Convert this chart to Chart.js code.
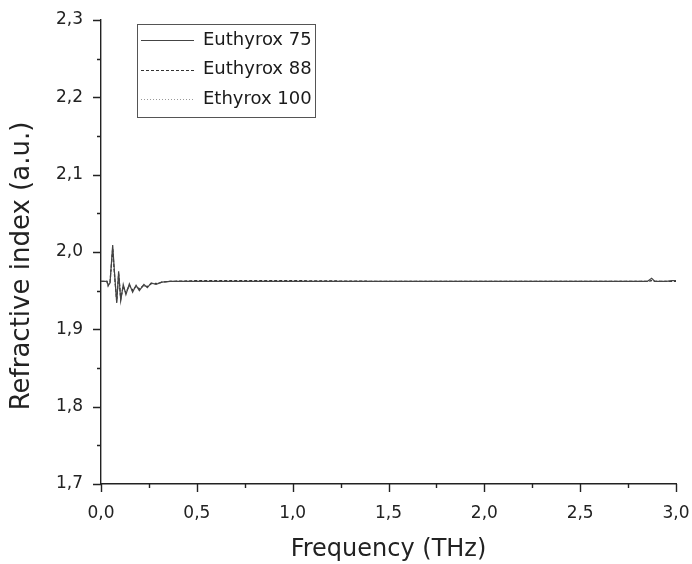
<!DOCTYPE html>
<html>
<head>
<meta charset="utf-8">
<script src="https://cdn.jsdelivr.net/npm/chart.js@4.4.1/dist/chart.umd.min.js"></script>
<style>
html,body{margin:0;padding:0;background:#fff;}
#wrap{width:692px;height:564px;position:relative;}
</style>
</head>
<body>
<div id="wrap"><canvas id="c" width="692" height="564"></canvas></div>
<script>
// Data
const freq = [0.000, 0.031, 0.037, 0.047, 0.061, 0.070, 0.082, 0.092, 0.103, 0.116, 0.130, 0.148, 0.165, 0.183, 0.200, 0.224, 0.242, 0.262, 0.287, 0.318, 0.360, 0.500, 1.000, 1.500, 2.000, 2.500, 2.850, 2.873, 2.890, 2.950, 2.980, 3.000];
const euthyrox75  = [1.962, 1.962, 1.957, 1.960, 2.009, 1.975, 1.934, 1.975, 1.937, 1.958, 1.945, 1.959, 1.948, 1.957, 1.950, 1.958, 1.954, 1.960, 1.958, 1.961, 1.962, 1.962, 1.962, 1.962, 1.962, 1.962, 1.962, 1.966, 1.962, 1.962, 1.963, 1.963];
const euthyrox88  = [1.962, 1.962, 1.956, 1.961, 2.005, 1.972, 1.936, 1.972, 1.939, 1.956, 1.947, 1.957, 1.950, 1.956, 1.952, 1.957, 1.955, 1.959, 1.959, 1.961, 1.962, 1.963, 1.963, 1.962, 1.962, 1.962, 1.962, 1.963, 1.962, 1.962, 1.962, 1.962];
const ethyrox100  = [1.962, 1.962, 1.958, 1.959, 2.002, 1.970, 1.938, 1.970, 1.940, 1.955, 1.948, 1.956, 1.951, 1.955, 1.953, 1.956, 1.956, 1.959, 1.960, 1.961, 1.962, 1.962, 1.962, 1.962, 1.962, 1.962, 1.962, 1.963, 1.962, 1.962, 1.962, 1.962];
const seriesNames = ['Euthyrox 75', 'Euthyrox 88', 'Ethyrox 100'];
const xTickValues = [0, 0.5, 1.0, 1.5, 2.0, 2.5, 3.0];
const yTickValues = [1.7, 1.8, 1.9, 2.0, 2.1, 2.2, 2.3];
const xTitle = 'Frequency (THz)';
const yTitle = 'Refractive index (a.u.)';

const FONT = "'DejaVu Sans', 'Liberation Sans', Arial, sans-serif";
const fmt = v => v.toFixed(1).replace('.', ',');
const pts = arr => freq.map((f, i) => ({x: f, y: arr[i]}));

const isMajor = (v, step) => Math.abs(v / step - Math.round(v / step)) < 1e-6;

// custom ticks (major + minor), y title and legend
const axisDeco = {
  id: 'axisDeco',
  afterDraw(chart) {
    const ctx = chart.ctx;
    const xs = chart.scales.x, ys = chart.scales.y;
    const ca = chart.chartArea;
    ctx.save();
    ctx.strokeStyle = '#222';
    ctx.lineWidth = 1.4;
    ctx.beginPath();
    xs.ticks.forEach(t => {
      const px = Math.round(xs.getPixelForValue(t.value)) + 0.5;
      const len = isMajor(t.value, 0.5) ? 8 : 4;
      ctx.moveTo(px, ca.bottom);
      ctx.lineTo(px, ca.bottom + len);
    });
    ys.ticks.forEach(t => {
      const py = Math.round(ys.getPixelForValue(t.value)) + 0.5;
      const len = isMajor(t.value, 0.1) ? 8 : 4;
      ctx.moveTo(ca.left, py);
      ctx.lineTo(ca.left - len, py);
    });
    ctx.stroke();

    // y axis title
    ctx.save();
    ctx.translate(22, 266);
    ctx.rotate(-Math.PI / 2);
    ctx.fillStyle = '#222';
    ctx.font = '26px ' + FONT;
    ctx.textAlign = 'center';
    ctx.textBaseline = 'middle';
    ctx.fillText(yTitle, 0, 0);
    ctx.restore();

    // legend box
    const bx = 137, by = 24, bw = 178, bh = 93;
    ctx.lineWidth = 1;
    ctx.strokeStyle = '#555';
    ctx.strokeRect(bx + 0.5, by + 0.5, bw, bh);
    chart.data.datasets.forEach((ds, i) => {
      const y = by + 16 + i * 29.5;
      ctx.beginPath();
      ctx.strokeStyle = ds.borderColor;
      ctx.lineWidth = 1.2;
      ctx.setLineDash(ds.borderDash || []);
      ctx.moveTo(141, Math.round(y) + 0.5);
      ctx.lineTo(194, Math.round(y) + 0.5);
      ctx.stroke();
      ctx.setLineDash([]);
      ctx.fillStyle = '#1a1a1a';
      ctx.font = '18px ' + FONT;
      ctx.textBaseline = 'middle';
      ctx.textAlign = 'left';
      ctx.fillText(ds.label, 203, y);
    });
    ctx.restore();
  }
};

new Chart(document.getElementById('c'), {
  type: 'line',
  data: {
    datasets: [
      {label: seriesNames[0], data: pts(euthyrox75), borderColor: '#444', borderWidth: 1.2, pointRadius: 0, tension: 0},
      {label: seriesNames[1], data: pts(euthyrox88), borderColor: '#333', borderWidth: 1.2, borderDash: [3, 2], pointRadius: 0, tension: 0},
      {label: seriesNames[2], data: pts(ethyrox100), borderColor: '#999', borderWidth: 1.2, borderDash: [1, 2], pointRadius: 0, tension: 0}
    ]
  },
  options: {
    responsive: false,
    animation: false,
    layout: {padding: {left: 0, right: 16, top: 20, bottom: 0}},
    plugins: {legend: {display: false}, tooltip: {enabled: false}},
    scales: {
      x: {
        type: 'linear', min: 0, max: 3,
        grid: {display: false},
        border: {display: true, color: '#222', width: 1.4},
        ticks: {
          stepSize: 0.25, autoSkip: false, maxRotation: 0, padding: 11,
          color: '#222', font: {family: FONT, size: 17},
          callback: v => xTickValues.some(t => Math.abs(t - v) < 1e-6) ? fmt(v) : ''
        },
        title: {display: true, text: xTitle, color: '#222', font: {family: FONT, size: 24}, padding: {top: 14, bottom: 0}},
        afterFit: s => { s.height = 80; s.paddingLeft = 0; s.paddingRight = 0; }
      },
      y: {
        type: 'linear', min: 1.7, max: 2.3,
        grid: {display: false},
        border: {display: true, color: '#222', width: 1.4},
        ticks: {
          stepSize: 0.05, autoSkip: false, padding: 10,
          color: '#222', font: {family: FONT, size: 17},
          callback: v => yTickValues.some(t => Math.abs(t - v) < 1e-6) ? fmt(v) : ''
        },
        title: {display: false},
        afterFit: s => { s.width = 101; s.paddingTop = 0; s.paddingBottom = 0; }
      }
    }
  },
  plugins: [axisDeco]
});
</script>
</body>
</html>
